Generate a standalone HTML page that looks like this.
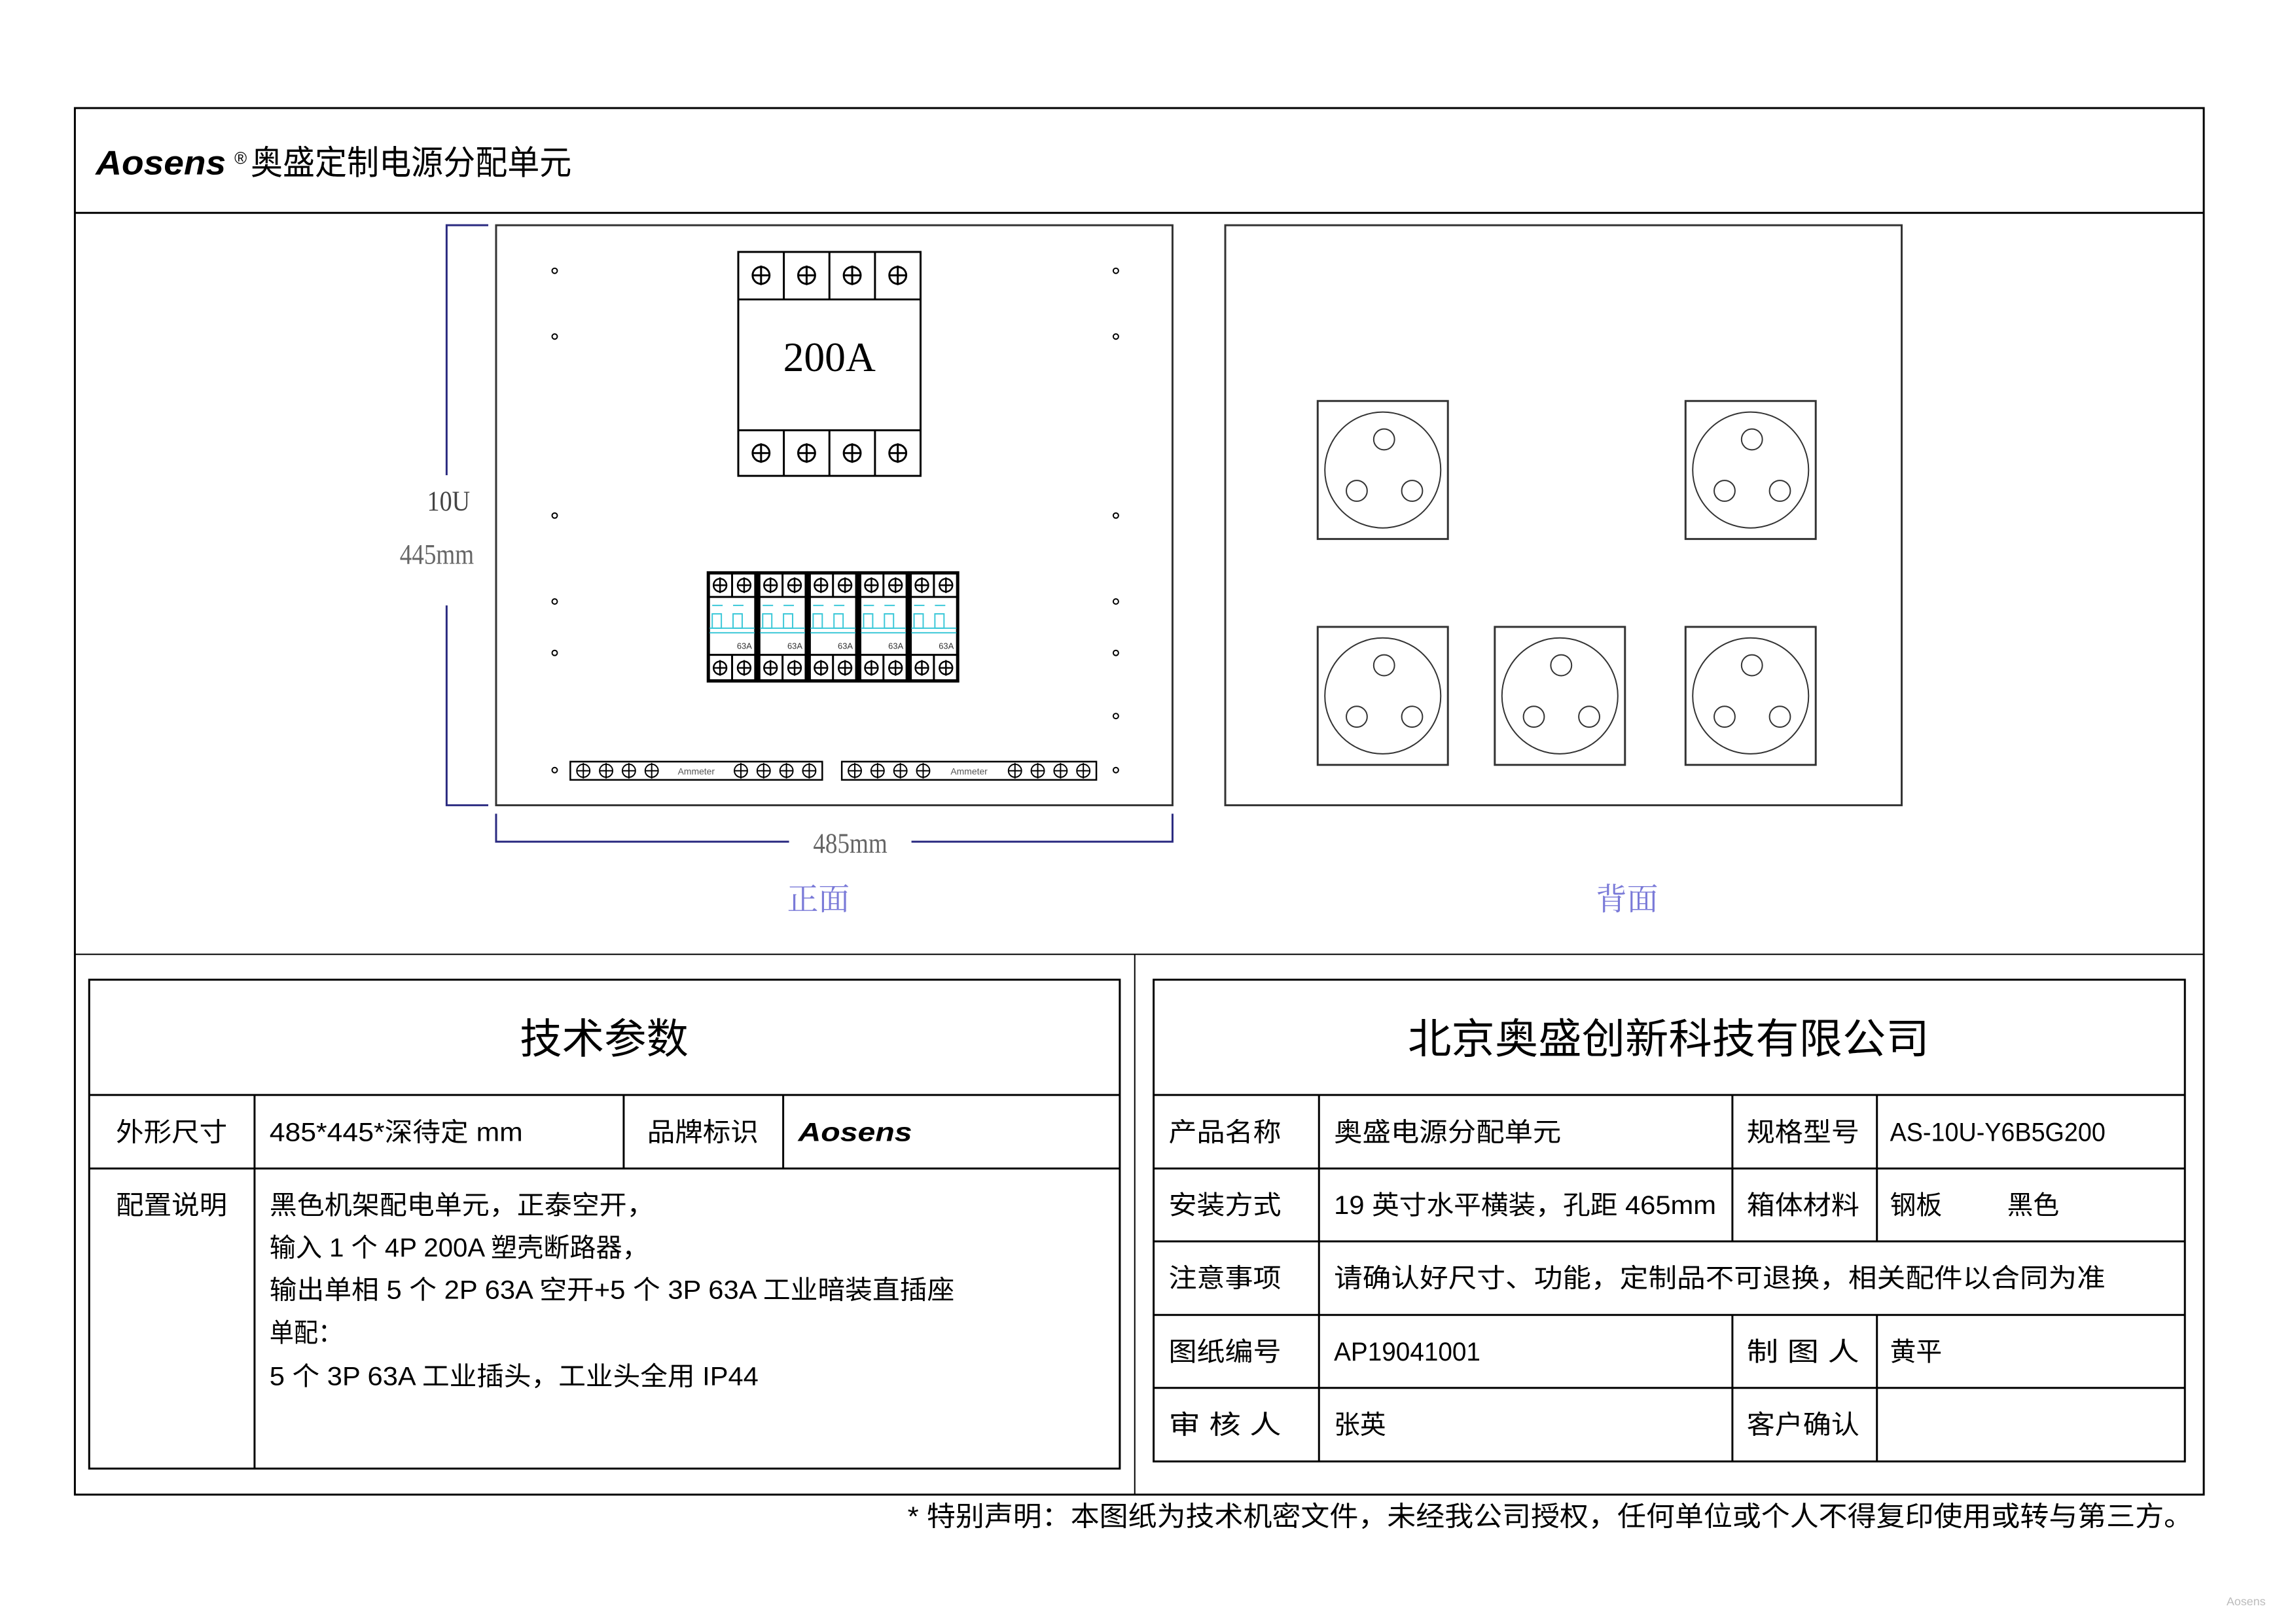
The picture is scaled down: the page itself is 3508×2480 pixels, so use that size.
<!DOCTYPE html>
<html><head><meta charset="utf-8"><style>
html,body{margin:0;padding:0;background:#fff}
svg{display:block}
text{font-family:"Liberation Sans","Noto Sans CJK SC",sans-serif}
.s{font-family:"Liberation Serif","Noto Serif CJK SC",serif}
</style></head><body>
<svg id="s" xmlns="http://www.w3.org/2000/svg" width="3508" height="2480" viewBox="0 0 3508 2480">
<rect width="3508" height="2480" fill="#fff"/>
<g transform="scale(0.9947)">
<!-- outer frame -->
<rect x="115" y="166" width="3270" height="2130" fill="none" stroke="#000" stroke-width="3"/>
<line x1="115" y1="327" x2="3385" y2="327" stroke="#000" stroke-width="3"/>
<line x1="115" y1="1466" x2="3385" y2="1466" stroke="#000" stroke-width="2"/>
<line x1="1743" y1="1466" x2="1743" y2="2296" stroke="#000" stroke-width="2"/>
<text x="147" y="268" font-size="52" font-weight="bold" font-style="italic" textLength="200" lengthAdjust="spacingAndGlyphs">Aosens</text>
<text x="360" y="252" font-size="26">®</text>
<text x="385" y="268" font-size="52" textLength="493" lengthAdjust="spacingAndGlyphs">奥盛定制电源分配单元</text>

<!-- front panel -->
<rect x="762" y="346" width="1039" height="891" fill="none" stroke="#333" stroke-width="3"/>
<g stroke="#2a2a80" stroke-width="3" fill="none">
<polyline points="750,346 686,346 686,730"/>
<polyline points="686,930 686,1237 750,1237"/>
<polyline points="762,1250 762,1293 1212,1293"/>
<polyline points="1400,1293 1801,1293 1801,1250"/>
</g>
<text class="s" x="689" y="784" font-size="44" text-anchor="middle" fill="#444" textLength="66" lengthAdjust="spacingAndGlyphs">10U</text>
<text class="s" x="671" y="866" font-size="44" text-anchor="middle" fill="#666" textLength="114" lengthAdjust="spacingAndGlyphs">445mm</text>
<text class="s" x="1306" y="1310" font-size="44" text-anchor="middle" fill="#666" textLength="114" lengthAdjust="spacingAndGlyphs">485mm</text>
<text class="s" x="1257" y="1398" font-size="48" text-anchor="middle" fill="#7a7ad8">正面</text>

<!-- 200A breaker -->
<rect x="1134" y="387" width="280" height="344" fill="#fff" stroke="#000" stroke-width="3"/>
<line x1="1134" y1="460" x2="1414" y2="460" stroke="#000" stroke-width="3"/>
<line x1="1134" y1="661" x2="1414" y2="661" stroke="#000" stroke-width="3"/>
<text class="s" x="1274" y="570" font-size="64" text-anchor="middle" fill="#000" textLength="142" lengthAdjust="spacingAndGlyphs">200A</text>
<g id="dyn"></g>

<!-- back panel -->
<rect x="1882" y="346" width="1039" height="891" fill="none" stroke="#333" stroke-width="3"/>
<text class="s" x="2499" y="1398" font-size="48" text-anchor="middle" fill="#7a7ad8">背面</text>

<!-- tables -->
<g stroke="#000" stroke-width="3" fill="none">
<rect x="137" y="1505" width="1583" height="751"/>
<line x1="137" y1="1682" x2="1720" y2="1682"/>
<line x1="137" y1="1795" x2="1720" y2="1795"/>
<line x1="391" y1="1682" x2="391" y2="2256"/>
<line x1="958" y1="1682" x2="958" y2="1795"/>
<line x1="1203" y1="1682" x2="1203" y2="1795"/>
<rect x="1772" y="1505" width="1584" height="740"/>
<line x1="1772" y1="1682" x2="3356" y2="1682"/>
<line x1="1772" y1="1795" x2="3356" y2="1795"/>
<line x1="1772" y1="1907" x2="3356" y2="1907"/>
<line x1="1772" y1="2020" x2="3356" y2="2020"/>
<line x1="1772" y1="2132" x2="3356" y2="2132"/>
<line x1="2026" y1="1682" x2="2026" y2="2245"/>
<line x1="2661" y1="1682" x2="2661" y2="1907"/>
<line x1="2883" y1="1682" x2="2883" y2="1907"/>
<line x1="2661" y1="2020" x2="2661" y2="2245"/>
<line x1="2883" y1="2020" x2="2883" y2="2245"/>
</g>
<text x="928" y="1618" font-size="64" text-anchor="middle" textLength="259" lengthAdjust="spacingAndGlyphs">技术参数</text>
<text x="2563" y="1618" font-size="64" text-anchor="middle" textLength="801" lengthAdjust="spacingAndGlyphs">北京奥盛创新科技有限公司</text>
<g font-size="40">
<text x="178" y="1753" textLength="171" lengthAdjust="spacingAndGlyphs">外形尺寸</text>
<text x="414" y="1753" textLength="389" lengthAdjust="spacingAndGlyphs">485*445*深待定 mm</text>
<text x="994" y="1753" textLength="171" lengthAdjust="spacingAndGlyphs">品牌标识</text>
<text x="1226" y="1753" font-weight="bold" font-style="italic" textLength="175" lengthAdjust="spacingAndGlyphs">Aosens</text>
<text x="178" y="1865" textLength="171" lengthAdjust="spacingAndGlyphs">配置说明</text>
<text x="414" y="1865" textLength="591" lengthAdjust="spacingAndGlyphs">黑色机架配电单元，正泰空开，</text>
<text x="414" y="1930" textLength="582" lengthAdjust="spacingAndGlyphs">输入 1 个 4P 200A 塑壳断路器，</text>
<text x="414" y="1995" textLength="1052" lengthAdjust="spacingAndGlyphs">输出单相 5 个 2P 63A 空开+5 个 3P 63A 工业暗装直插座</text>
<text x="414" y="2061" textLength="112" lengthAdjust="spacingAndGlyphs">单配：</text>
<text x="414" y="2128" textLength="751" lengthAdjust="spacingAndGlyphs">5 个 3P 63A 工业插头，工业头全用 IP44</text>

<text x="1795" y="1753" textLength="173" lengthAdjust="spacingAndGlyphs">产品名称</text>
<text x="2049" y="1753" textLength="349" lengthAdjust="spacingAndGlyphs">奥盛电源分配单元</text>
<text x="2683" y="1753" textLength="173" lengthAdjust="spacingAndGlyphs">规格型号</text>
<text x="2903" y="1753" textLength="331" lengthAdjust="spacingAndGlyphs">AS-10U-Y6B5G200</text>
<text x="1795" y="1865" textLength="173" lengthAdjust="spacingAndGlyphs">安装方式</text>
<text x="2049" y="1865" textLength="587" lengthAdjust="spacingAndGlyphs">19 英寸水平横装，孔距 465mm</text>
<text x="2683" y="1865" textLength="173" lengthAdjust="spacingAndGlyphs">箱体材料</text>
<text x="2903" y="1865">钢板</text>
<text x="3083" y="1865">黑色</text>
<text x="1795" y="1977" textLength="173" lengthAdjust="spacingAndGlyphs">注意事项</text>
<text x="2049" y="1977" textLength="1185" lengthAdjust="spacingAndGlyphs">请确认好尺寸、功能，定制品不可退换，相关配件以合同为准</text>
<text x="1795" y="2090" textLength="173" lengthAdjust="spacingAndGlyphs">图纸编号</text>
<text x="2049" y="2090" textLength="225" lengthAdjust="spacingAndGlyphs">AP19041001</text>
<text x="2683" y="2090" textLength="173" lengthAdjust="spacingAndGlyphs">制 图 人</text>
<text x="2903" y="2090">黄平</text>
<text x="1795" y="2202" textLength="173" lengthAdjust="spacingAndGlyphs">审 核 人</text>
<text x="2049" y="2202">张英</text>
<text x="2683" y="2202" textLength="173" lengthAdjust="spacingAndGlyphs">客户确认</text>
</g>
<text x="1394" y="2344" font-size="42" textLength="1974" lengthAdjust="spacingAndGlyphs">* 特别声明：本图纸为技术机密文件，未经我公司授权，任何单位或个人不得复印使用或转与第三方。</text>
<text x="3450" y="2466" font-size="18" fill="#bbb" text-anchor="middle">Aosens</text>
</g>
</svg>
<script>
var NS="http://www.w3.org/2000/svg",g=document.getElementById("dyn");
function el(t,a,p){var e=document.createElementNS(NS,t);for(var k in a)e.setAttribute(k,a[k]);(p||g).appendChild(e);return e;}
function screw(cx,cy,r,w){el("circle",{cx:cx,cy:cy,r:r,fill:"none",stroke:"#000","stroke-width":w});
el("line",{x1:cx-r,y1:cy,x2:cx+r,y2:cy,stroke:"#000","stroke-width":w});
el("line",{x1:cx,y1:cy-r-2,x2:cx,y2:cy+r+2,stroke:"#000","stroke-width":w});}
for(var i=0;i<4;i++){var x=1134+i*70;
 if(i>0){el("line",{x1:x,y1:387,x2:x,y2:460,stroke:"#000","stroke-width":3});el("line",{x1:x,y1:661,x2:x,y2:731,stroke:"#000","stroke-width":3});}
 screw(x+35,423,13,3);screw(x+35,696,13,3);}
[416,517,792,924,1003,1183].forEach(function(y){el("circle",{cx:852,cy:y,r:4,fill:"none",stroke:"#000","stroke-width":2});});
[416,517,792,924,1003,1100,1183].forEach(function(y){el("circle",{cx:1714,cy:y,r:4,fill:"none",stroke:"#000","stroke-width":2});});
for(var m=0;m<5;m++){var x0=1088+m*77.5,w=73;
 el("rect",{x:x0,y:880,width:w,height:166,fill:"#fff",stroke:"#000","stroke-width":5});
 el("line",{x1:x0,y1:917,x2:x0+w,y2:917,stroke:"#000","stroke-width":3});
 el("line",{x1:x0,y1:1006,x2:x0+w,y2:1006,stroke:"#000","stroke-width":3});
 el("line",{x1:x0+w/2,y1:880,x2:x0+w/2,y2:917,stroke:"#000","stroke-width":3});
 el("line",{x1:x0+w/2,y1:1006,x2:x0+w/2,y2:1046,stroke:"#000","stroke-width":3});
 screw(x0+18,899,10,2.5);screw(x0+w-18,899,10,2.5);screw(x0+18,1026,10,2.5);screw(x0+w-18,1026,10,2.5);
 var c={stroke:"#3cc8d8","stroke-width":2,fill:"none"};
 el("line",Object.assign({x1:x0+6,y1:930,x2:x0+22,y2:930},c));el("line",Object.assign({x1:x0+38,y1:930,x2:x0+54,y2:930},c));
 el("rect",Object.assign({x:x0+6,y:943,width:14,height:22},c));el("rect",Object.assign({x:x0+38,y:943,width:14,height:22},c));
 el("line",Object.assign({x1:x0+2,y1:965,x2:x0+w-2,y2:965},c));el("line",Object.assign({x1:x0+2,y1:972,x2:x0+w-2,y2:972},c));
 var t=el("text",{x:x0+w-6,y:997,"font-size":13,"text-anchor":"end",fill:"#333"});t.textContent="63A";}
[[876,1263],[1293,1684]].forEach(function(s){
 el("rect",{x:s[0],y:1170,width:s[1]-s[0],height:28,fill:"none",stroke:"#000","stroke-width":2.5});
 for(var j=0;j<4;j++){screw(s[0]+20+j*35,1184,10,2);screw(s[1]-20-j*35,1184,10,2);}
 var t=el("text",{x:(s[0]+s[1])/2,y:1190,"font-size":14,"text-anchor":"middle",fill:"#555"});t.textContent="Ammeter";});
[[2024,616],[2589,616],[2024,963],[2296,963],[2589,963]].forEach(function(p){var x=p[0],y=p[1];
 el("rect",{x:x,y:y,width:200,height:212,fill:"none",stroke:"#333","stroke-width":3});
 el("circle",{cx:x+100,cy:y+106,r:89,fill:"none",stroke:"#333","stroke-width":2});
 [[102,59],[60,138],[145,138]].forEach(function(q){el("circle",{cx:x+q[0],cy:y+q[1],r:16,fill:"none",stroke:"#333","stroke-width":2});});});
</script>
</body></html>
